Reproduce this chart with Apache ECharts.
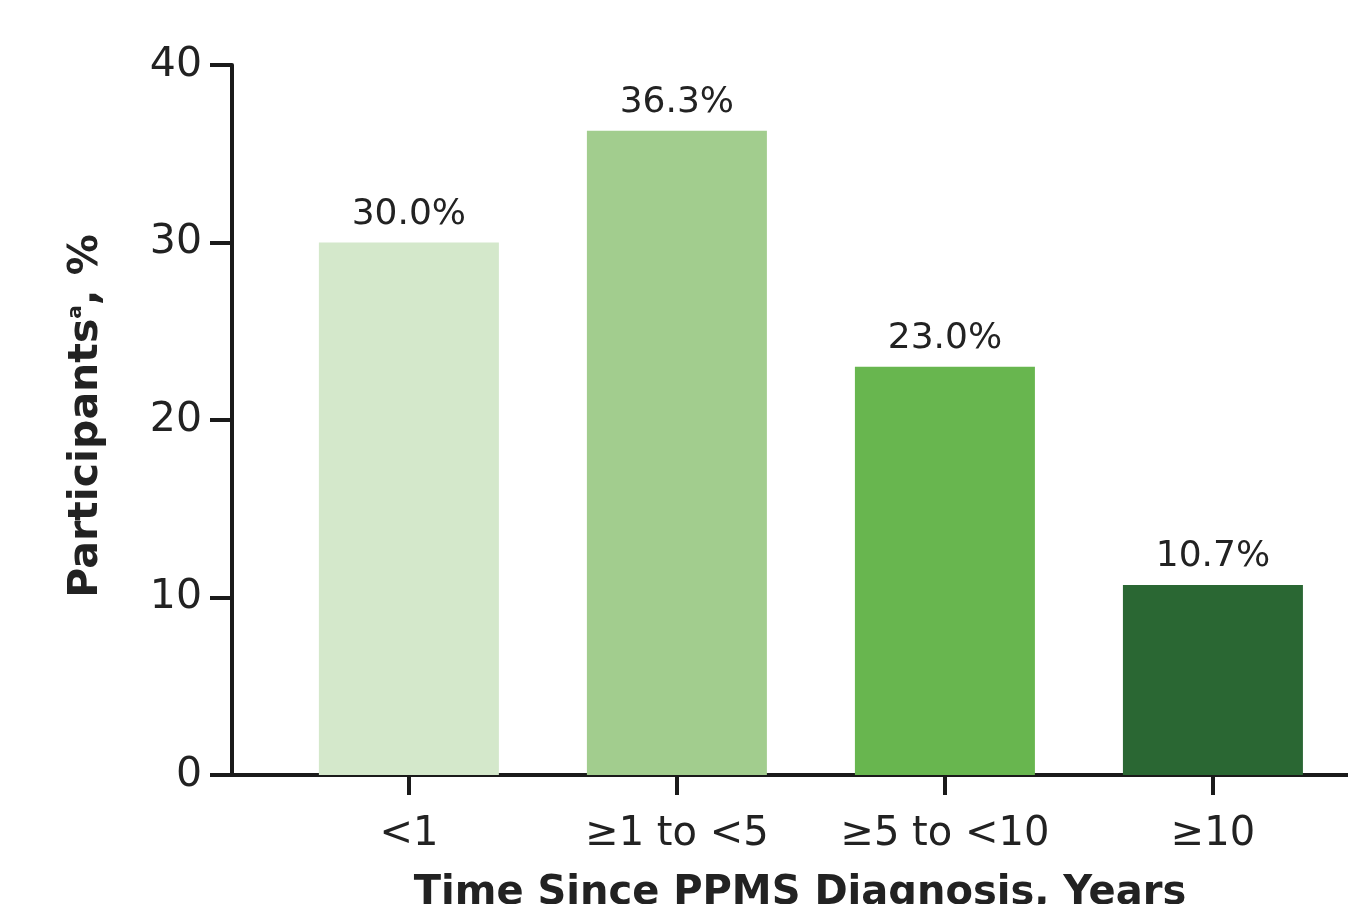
<!DOCTYPE html>
<html>
<head>
<meta charset="utf-8">
<script src="https://cdn.jsdelivr.net/npm/echarts@6/dist/echarts.min.js"></script>
<style>html,body{margin:0;padding:0;background:#fff}#c{width:1348px;height:904px}</style>
</head>
<body>
<div id="c"></div>
<script>
const categories = ['<1', '\u22651 to <5', '\u22655 to <10', '\u226510'];
const participants = [30.0, 36.3, 23.0, 10.7];
const yTicks = [0, 10, 20, 30, 40];
const barColors = ['#d4e8cb', '#a2cd8e', '#68b64f', '#2a6733'];

const font = 'DejaVu Sans';
const ink = '#222';
const chart = echarts.init(document.getElementById('c'));
const positions = categories.map((_, i) => i);

chart.setOption({
  animation: false,
  backgroundColor: '#fff',
  grid: { left: 232, right: 0, top: 65, bottom: 129, outerBoundsMode: 'none', containLabel: false },
  xAxis: {
    type: 'value',
    min: -0.66,
    max: 3.504,
    splitLine: { show: false },
    axisLine: { show: true, lineStyle: { color: '#1a1a1a', width: 4 } },
    axisTick: { show: true, customValues: positions, length: 20, lineStyle: { color: '#1a1a1a', width: 4 } },
    axisLabel: {
      customValues: positions,
      formatter: v => categories[Math.round(v)],
      margin: 40, fontFamily: font, fontSize: 40, color: ink
    },
    name: 'Time Since PPMS Diagnosis, Years',
    nameLocation: 'middle',
    nameGap: 99,
    nameTextStyle: { fontFamily: font, fontSize: 40, fontWeight: 'bold', color: ink, padding: [0, 0, 0, 20] }
  },
  yAxis: {
    type: 'value',
    min: yTicks[0],
    max: yTicks[yTicks.length - 1],
    interval: 10,
    splitLine: { show: false },
    axisLine: { show: true, onZero: false, lineStyle: { color: '#1a1a1a', width: 4 } },
    axisTick: { show: true, length: 22, lineStyle: { color: '#1a1a1a', width: 4 } },
    axisLabel: { margin: 30, fontFamily: font, fontSize: 41, color: ink },
    name: 'Participants{sup|a}, %',
    nameLocation: 'middle',
    nameGap: 125,
    nameTextStyle: {
      fontFamily: font, fontSize: 41, fontWeight: 'bold', color: ink, padding: [0, 0, 0, 8],
      rich: { sup: { fontFamily: font, fontSize: 20, fontWeight: 'bold', color: ink, verticalAlign: 'top', padding: [0, 0, 16, 0] } }
    }
  },
  series: [{
    type: 'bar',
    barWidth: 180,
    data: participants.map((v, i) => ({ value: [i, v], itemStyle: { color: barColors[i] } })),
    label: {
      show: true, position: 'top', distance: 10,
      fontFamily: font, fontSize: 36, color: ink,
      formatter: p => p.value[1].toFixed(1) + '%'
    }
  }]
});
</script>
</body>
</html>
